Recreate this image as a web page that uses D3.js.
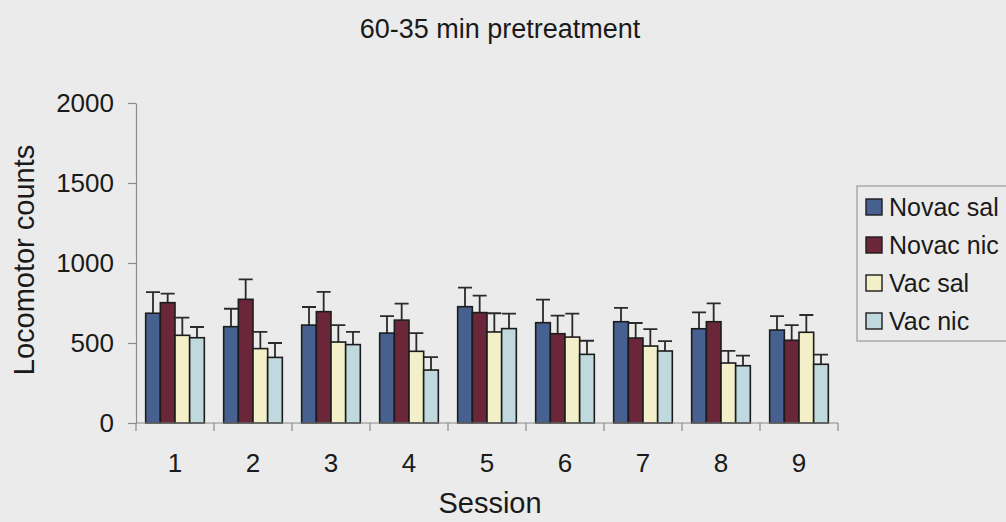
<!DOCTYPE html>
<html>
<head>
<meta charset="utf-8">
<script src="https://cdn.jsdelivr.net/npm/d3@7"></script>
<style>
  html, body { margin: 0; padding: 0; background: #ebebeb; }
  svg { display: block; }
  text { font-family: "Liberation Sans", Arial, sans-serif; fill: #1a1a1a; }
</style>
</head>
<body>
<svg id="chart" width="1006" height="522"></svg>
<script>
// Sessions and group labels
const sessions = ["1", "2", "3", "4", "5", "6", "7", "8", "9"];
const groups = ["Novac sal", "Novac nic", "Vac sal", "Vac nic"];
const groupColors = ["#46608f", "#6b2639", "#f3efc9", "#bfd9de"];

// Mean locomotor counts per session for each group
const novacSal = [686, 602, 612, 562, 727, 627, 633, 589, 581];
const novacNic = [752, 773, 696, 643, 690, 558, 531, 633, 517];
const vacSal   = [548, 465, 506, 448, 569, 537, 481, 375, 567];
const vacNic   = [533, 410, 490, 331, 590, 429, 450, 358, 367];

// Upper end of the error bars (mean + SEM)
const novacSalErr = [818, 714, 725, 668, 846, 771, 719, 691, 668];
const novacNicErr = [808, 898, 819, 746, 796, 671, 625, 748, 612];
const vacSalErr   = [658, 569, 612, 562, 686, 683, 587, 451, 675];
const vacNicErr   = [600, 500, 569, 412, 683, 514, 512, 421, 427];

const yTicks = [0, 500, 1000, 1500, 2000];

const means = [novacSal, novacNic, vacSal, vacNic];
const errs = [novacSalErr, novacNicErr, vacSalErr, vacNicErr];

const svg = d3.select("#chart");
const plot = { left: 136, right: 838, top: 103, bottom: 423 };

const x = d3.scaleBand().domain(sessions).range([plot.left, plot.right]).paddingInner(0).paddingOuter(0);
const xs = d3.scaleBand().domain(groups).range([0, x.bandwidth()]).paddingInner(0).paddingOuter(0.66);
const y = d3.scaleLinear().domain([0, 2000]).range([plot.bottom, plot.top]);

// Title
svg.append("text")
  .attr("x", 500).attr("y", 38)
  .attr("text-anchor", "middle")
  .style("font-size", "27px")
  .text("60-35 min pretreatment");

// Bars and error bars
const records = [];
groups.forEach((g, gi) => {
  sessions.forEach((s, si) => {
    records.push({ g, gi, s, v: means[gi][si], e: errs[gi][si] });
  });
});

const capW = 14;
const eb = svg.append("g").attr("class", "errorbars");
eb.selectAll("path")
  .data(records)
  .join("path")
  .attr("d", d => {
    const cx = x(d.s) + xs(d.g) + xs.bandwidth() / 2;
    return `M${cx},${y(d.v)}V${y(d.e)}M${cx - capW / 2},${y(d.e)}H${cx + capW / 2}`;
  })
  .attr("fill", "none")
  .attr("stroke", "#2a2a2a")
  .attr("stroke-width", 1.8);

svg.append("g").attr("class", "bars")
  .selectAll("rect")
  .data(records)
  .join("rect")
  .attr("x", d => x(d.s) + xs(d.g))
  .attr("y", d => y(d.v))
  .attr("width", xs.bandwidth())
  .attr("height", d => y(0) - y(d.v))
  .attr("fill", d => groupColors[d.gi])
  .attr("stroke", "#1c1c1c")
  .attr("stroke-width", 1.6);

// Y axis
const yAxis = d3.axisLeft(y).tickValues(yTicks).tickFormat(d3.format("d"))
  .tickSize(8).tickPadding(14).tickSizeOuter(0);
const gy = svg.append("g").attr("transform", `translate(${plot.left},0)`).call(yAxis);
gy.select(".domain").attr("stroke", "#8a8a8a").attr("stroke-width", 1.2);
gy.selectAll(".tick line").attr("stroke", "#8a8a8a").attr("stroke-width", 1.2);
gy.selectAll(".tick text").style("font-size", "26px").attr("fill", "#1a1a1a")
  .style("font-family", "'Liberation Sans', Arial, sans-serif");

// X axis: ticks sit on the session boundaries
const gx = svg.append("g").attr("transform", `translate(0,${plot.bottom})`);
gx.append("line")
  .attr("x1", plot.left).attr("x2", plot.right)
  .attr("stroke", "#8a8a8a").attr("stroke-width", 1.2);
const bounds = sessions.map(s => x(s)).concat([x(sessions[sessions.length - 1]) + x.bandwidth()]);
gx.selectAll("line.tk")
  .data(bounds)
  .join("line")
  .attr("class", "tk")
  .attr("x1", d => d).attr("x2", d => d)
  .attr("y1", 0).attr("y2", 8)
  .attr("stroke", "#8a8a8a").attr("stroke-width", 1.2);
gx.selectAll("text")
  .data(sessions)
  .join("text")
  .attr("x", d => x(d) + x.bandwidth() / 2)
  .attr("y", 49)
  .attr("text-anchor", "middle")
  .style("font-size", "26px")
  .text(d => d);

// Axis titles
svg.append("text")
  .attr("x", (plot.left + plot.right) / 2 + 3).attr("y", 513)
  .attr("text-anchor", "middle")
  .style("font-size", "29px")
  .text("Session");

svg.append("text")
  .attr("transform", `translate(34,${(plot.top + plot.bottom) / 2 - 3}) rotate(-90)`)
  .attr("text-anchor", "middle")
  .style("font-size", "29px")
  .text("Locomotor counts");

// Legend
const legend = svg.append("g").attr("transform", "translate(857,186)");
legend.append("rect")
  .attr("width", 160).attr("height", 155)
  .attr("fill", "#ebebeb")
  .attr("stroke", "#9a9a9a").attr("stroke-width", 1.2);
const item = legend.selectAll("g.item")
  .data(groups)
  .join("g")
  .attr("class", "item")
  .attr("transform", (d, i) => `translate(0,${21 + i * 38})`);
item.append("rect")
  .attr("x", 9).attr("y", -8)
  .attr("width", 16).attr("height", 16)
  .attr("fill", (d, i) => groupColors[i])
  .attr("stroke", "#1c1c1c").attr("stroke-width", 1.4);
item.append("text")
  .attr("x", 32).attr("y", 9)
  .style("font-size", "25px")
  .text(d => d);
</script>
</body>
</html>
